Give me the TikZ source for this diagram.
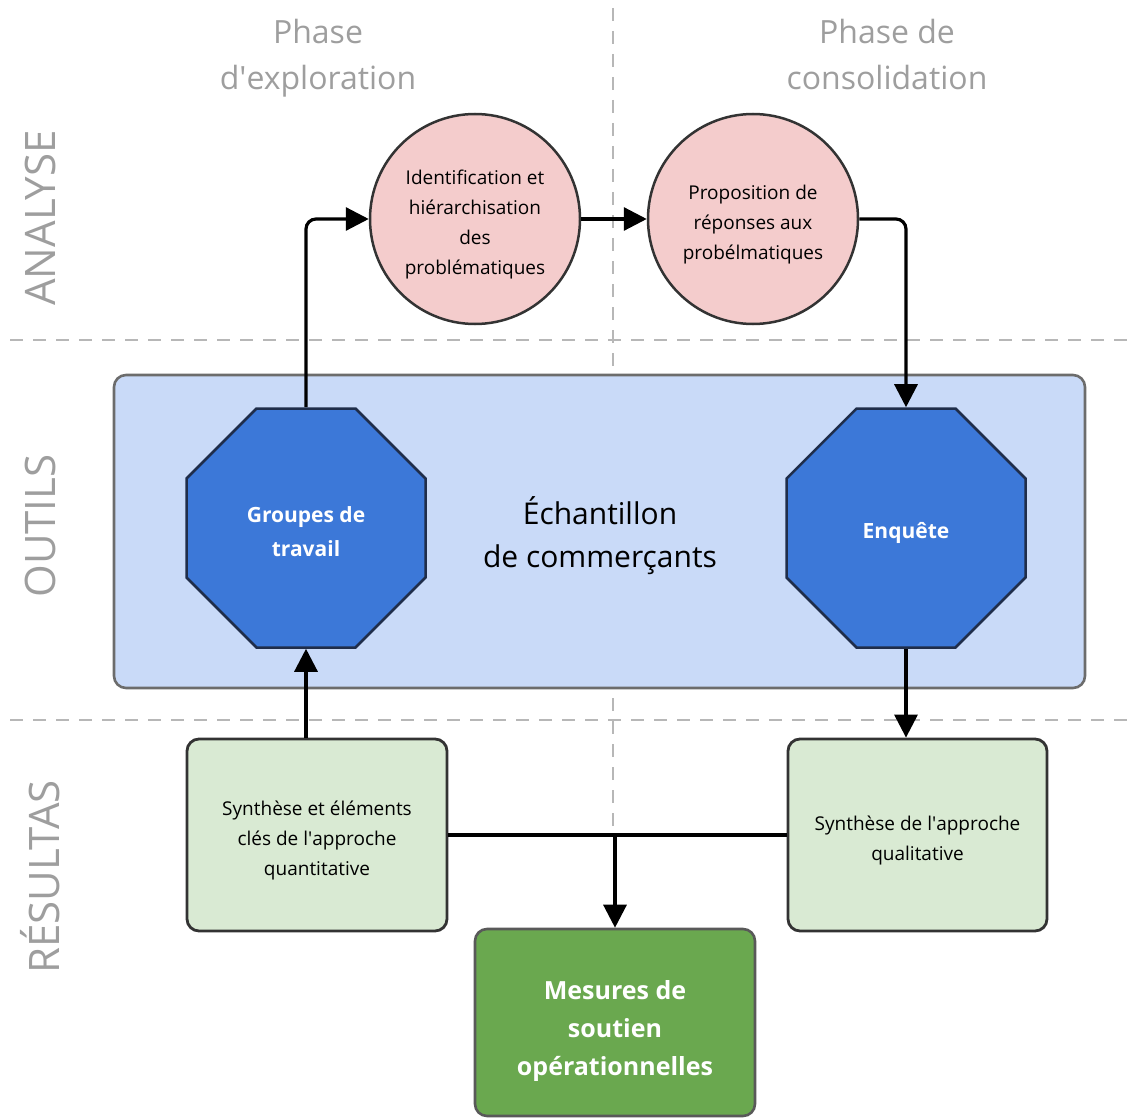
\documentclass[tikz,border=0pt]{standalone}
\usepackage{fontspec}
\setmainfont{Open Sans}
\usetikzlibrary{shapes.geometric,arrows.meta}
\definecolor{hdrgray}{HTML}{9E9E9E}
\definecolor{dashgray}{HTML}{B7B7B7}
\definecolor{pinkfill}{HTML}{F4CCCC}
\definecolor{lightblue}{HTML}{C9DAF8}
\definecolor{octblue}{HTML}{3C78D8}
\definecolor{octborder}{HTML}{1F2D4A}
\definecolor{lightgreen}{HTML}{D9EAD3}
\definecolor{darkgreen}{HTML}{6AA84F}
\definecolor{edgegray}{HTML}{333333}
\tikzset{
  hdr/.style={text=hdrgray, align=center, font=\fontsize{32}{46}\selectfont},
  side/.style={text=hdrgray, rotate=90, font=\fontsize{42}{46}\selectfont},
  sepline/.style={draw=dashgray, line width=1.6pt, dash pattern=on 13pt off 10pt},
  probcircle/.style={circle, draw=edgegray, line width=2.5pt, fill=pinkfill, minimum size=210pt, inner sep=0pt},
  smalltext/.style={align=center, inner sep=0pt, font=\fontsize{19}{30}\selectfont},
  toolbox/.style={draw=gray!85!black, line width=2.6pt, fill=lightblue, rounded corners=12pt, minimum width=971pt, minimum height=313pt},
  octo/.style={regular polygon, regular polygon sides=8, minimum size=258.7pt, inner sep=0pt, draw=octborder, line width=2.5pt, fill=octblue},
  octtext/.style={text=white, align=center, inner sep=0pt, font=\bfseries\fontsize{21}{34}\selectfont},
  resbox/.style={draw=edgegray, line width=2.8pt, fill=lightgreen, rounded corners=12pt, minimum height=192pt},
  mesbox/.style={draw=gray!70!black, line width=2.6pt, fill=darkgreen, rounded corners=12pt, minimum width=280pt, minimum height=187pt},
  mestext/.style={text=white, align=center, inner sep=0pt, font=\bfseries\fontsize{25}{38}\selectfont},
  arr/.style={draw=black, line width=3.2pt, -{Triangle[length=23pt,width=23pt]}},
  plainline/.style={draw=black, line width=3.2pt},
}
\begin{document}
\begin{tikzpicture}[x=1pt,y=-1pt]
\useasboundingbox (0,0) rectangle (1129,1118);
% separators
\draw[sepline] (613,8) -- (613,835);
\draw[sepline] (10,340) -- (1129,340);
\draw[sepline] (10,720) -- (1129,720);
% headers
\node[hdr] (h1) at (318,58) {Phase\\d\textquotesingle exploration};
\node[hdr] (h2) at (887,55) {Phase de\\consolidation};
\node[side] (s1) at (40,218) {ANALYSE};
\node[side] (s2) at (40,526) {OUTILS};
\node[side] (s3) at (40,877) {RÉSULTAS};
% tools box
\node[toolbox] (tools) at (599.5,531.5) {};
\node[font=\fontsize{30}{43}\selectfont, align=center] (ech) at (600,536) {Échantillon\\de commerçants};
% circles
\node[probcircle] (c1) at (475,219) {};
\node[smalltext] (c1t) at ([yshift=-6pt]c1.center) {Identification et\\hiérarchisation\\des\\problématiques};
\node[probcircle] (c2) at (753,219) {};
\node[smalltext] (c2t) at ([yshift=-6pt]c2.center) {Proposition de\\réponses aux\\probélmatiques};
% octagons
\node[octo] (o1) at (306,528) {};
\node[octtext] (o1t) at ([yshift=-4pt]o1.center) {Groupes de\\travail};
\node[octo] (o2) at (906,528) {};
\node[octtext] (o2t) at ([yshift=-5pt]o2.center) {Enquête};
% results
\node[resbox, minimum width=260pt] (r1) at (317,835) {};
\node[smalltext] (r1t) at ([yshift=-5pt]r1.center) {Synthèse et éléments\\clés de l\textquotesingle approche\\quantitative};
\node[resbox, minimum width=259pt] (r2) at (917.5,835) {};
\node[smalltext] (r2t) at ([yshift=-5pt]r2.center) {Synthèse de l\textquotesingle approche\\qualitative};
\node[mesbox] (m) at (615,1022.5) {};
\node[mestext] (mt) at ([yshift=-8pt]m.center) {Mesures de\\soutien\\opérationnelles};
% connectors
\draw[arr, rounded corners=10pt] (o1.north) |- (c1.west);
\draw[arr] (c1.east) -- (c2.west);
\draw[arr, rounded corners=10pt] (c2.east) -| (o2.north);
\draw[arr] (o1.south |- r1.north) -- (o1.south);
\draw[arr] (o2.south) -- (o2.south |- r2.north);
\draw[plainline] (r1.east) -- (r2.west);
\coordinate (junc) at (m.north |- r1.east);
\draw[arr] (junc) -- (m.north);
\end{tikzpicture}
\end{document}
